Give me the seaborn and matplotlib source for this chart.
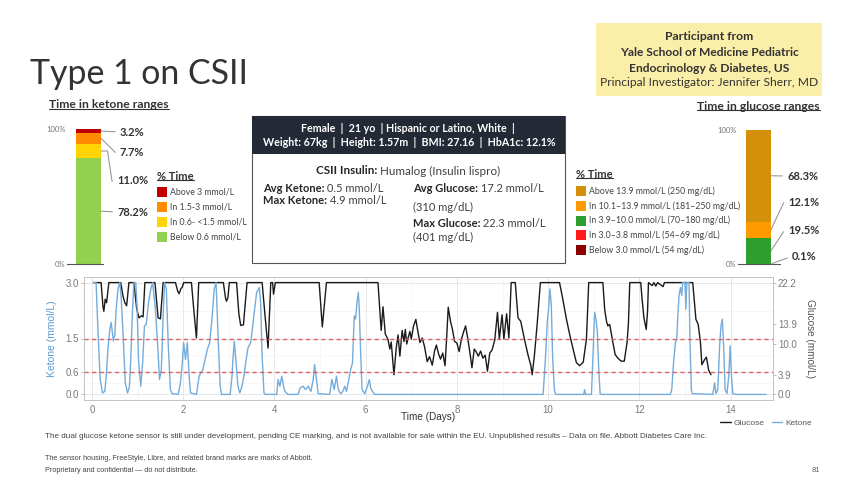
import numpy as np
import pandas as pd
import matplotlib
matplotlib.use("Agg")
import matplotlib.pyplot as plt
from matplotlib.patches import Rectangle
from matplotlib.lines import Line2D
import seaborn as sns

# ---------------- data ----------------
ketone_ranges = ['Above 3 mmol/L', 'In 1.5-3 mmol/L', 'In 0.6- <1.5 mmol/L', 'Below 0.6 mmol/L']
ketone_pct = [3.2, 7.7, 11.0, 78.2]
ketone_colors = ['#C00000', '#FF8C00', '#FFD400', '#92D050']

glucose_ranges = ['Above 13.9 mmol/L (250 mg/dL)', 'In 10.1\u201313.9 mmol/L (181\u2013250 mg/dL)',
                  'In 3.9\u201310.0 mmol/L (70\u2013180 mg/dL)', 'In 3.0\u20133.8 mmol/L (54\u201369 mg/dL)',
                  'Below 3.0 mmol/L (54 mg/dL)']
glucose_pct = [68.3, 12.1, 19.5, 0.1, 0.0]
glucose_colors = ['#D4900A', '#FF9B00', '#2E9E2E', '#FF1A1A', '#8B0000']

ketone_ticks = [0.0, 0.6, 1.5, 3.0]
glucose_ticks = [0.0, 3.9, 10.0, 13.9, 22.2]
ketone_thresholds = [0.6, 1.5]
KET_MAX, GLU_MAX = 3.0, 22.2

glucose_day = [0.03, 0.20, 0.24, 0.26, 0.29, 0.32, 0.37, 0.63, 0.68, 0.72, 0.76, 0.81, 0.92, 0.98, 1.03,
               1.08, 1.12, 1.16, 1.38, 1.45, 1.50, 1.56, 1.83, 1.88, 1.91, 1.95, 1.98, 2.01, 2.18, 2.24,
               2.29, 2.34, 2.88, 2.93, 2.95, 2.98, 3.01, 3.17, 3.22, 3.26, 3.32, 3.40, 3.73, 3.80, 3.86,
               3.92, 3.96, 3.98, 4.02, 4.98, 5.05, 5.14, 6.27, 6.34, 6.38, 6.43, 6.49, 6.53, 6.56, 6.62,
               6.67, 6.71, 6.75, 6.80, 6.84, 6.87, 6.90, 6.93, 6.97, 7.00, 7.05, 7.10, 7.15, 7.19, 7.24,
               7.29, 7.35, 7.40, 7.46, 7.51, 7.55, 7.60, 7.64, 7.69, 7.74, 7.78, 7.81, 7.86, 7.90, 7.95,
               8.00, 8.05, 8.10, 8.15, 8.19, 8.24, 8.29, 8.33, 8.38, 8.42, 8.47, 8.52, 8.57, 8.62, 8.67,
               8.72, 8.77, 8.83, 8.89, 8.93, 8.99, 9.03, 9.09, 9.14, 9.19, 9.28, 9.34, 9.40, 9.48, 9.56,
               9.62, 9.65, 9.70, 9.76, 9.83, 10.25, 10.32, 10.40, 10.47, 10.55, 10.62, 10.69, 10.77, 10.84,
               10.89, 11.20, 11.24, 11.28, 11.31, 11.35, 11.42, 11.47, 11.53, 11.60, 11.67, 11.73, 11.76,
               11.79, 12.03, 12.06, 12.10, 12.15, 12.18, 12.20, 12.28, 12.32, 12.36, 12.40, 12.52, 12.55,
               13.17, 13.24, 13.29, 13.34, 13.37, 13.43, 13.47, 13.52, 13.57]
glucose_mmol = [22.2, 22.2, 17.5, 16.5, 18.9, 18.2, 22.2, 22.2, 19.5, 18.2, 17.6, 22.2, 22.2, 17.0, 15.2,
                15.6, 15.4, 22.2, 22.2, 15.2, 15.0, 22.2, 22.2, 20.5, 20.0, 21.0, 21.3, 22.2, 22.2, 16.0,
                11.2, 22.2, 22.2, 19.0, 18.5, 19.2, 22.2, 22.2, 16.0, 13.7, 13.8, 22.2, 22.2, 15.0, 9.2,
                22.2, 22.2, 19.9, 22.2, 22.2, 13.4, 22.2, 22.2, 12.7, 17.4, 12.0, 10.9, 9.0, 10.4, 3.9,
                9.2, 11.8, 7.6, 12.7, 10.5, 12.9, 10.0, 11.2, 12.5, 11.0, 13.6, 14.9, 12.2, 10.3, 11.2,
                9.5, 6.5, 7.5, 5.8, 8.6, 9.8, 8.0, 7.0, 8.2, 5.7, 12.0, 17.3, 14.5, 13.0, 10.5,
                10.2, 8.5, 11.0, 12.5, 13.6, 11.0, 8.0, 5.3, 9.0, 8.5, 7.6, 8.6, 7.2, 7.8, 4.6,
                8.2, 8.8, 10.8, 16.3, 11.0, 15.8, 11.0, 16.0, 11.2, 22.2, 22.2, 15.2, 14.5, 11.0, 7.8,
                5.8, 3.9, 7.8, 14.0, 22.2, 22.2, 19.0, 15.0, 12.0, 8.9, 6.3, 5.7, 6.4, 11.0,
                22.2, 22.2, 16.9, 14.5, 13.6, 13.9, 10.3, 7.9, 7.2, 6.6, 6.6, 10.3, 14.0,
                22.2, 22.2, 18.9, 15.2, 12.9, 16.5, 22.2, 21.6, 22.2, 21.5, 22.2, 21.4, 22.2,
                22.2, 14.9, 13.9, 10.3, 5.9, 6.9, 7.4, 4.8, 3.9]

ketone_day = [0.03, 0.09, 0.13, 0.18, 0.23, 0.28, 0.31, 0.35, 0.39, 0.42, 0.47, 0.50, 0.53, 0.57, 0.61,
              0.64, 0.69, 0.73, 0.78, 0.82, 0.85, 0.89, 0.92, 0.96, 0.99, 1.02, 1.07, 1.11, 1.15, 1.19,
              1.24, 1.29, 1.33, 1.39, 1.45, 1.48, 1.52, 1.56, 1.59, 1.63, 1.67, 1.72, 1.76, 1.89, 1.94,
              1.98, 2.01, 2.05, 2.09, 2.13, 2.16, 2.29, 2.35, 2.38, 2.43, 2.48, 2.53, 2.58, 2.63, 2.68,
              2.72, 2.77, 2.81, 2.84, 3.03, 3.07, 3.09, 3.12, 3.17, 3.20, 3.24, 3.29, 3.33, 3.37, 3.42,
              3.48, 3.55, 3.61, 3.64, 3.67, 3.70, 3.73, 3.77, 3.80, 4.05, 4.08, 4.12, 4.16, 4.20, 4.23,
              4.30, 4.52, 4.56, 4.63, 4.68, 4.74, 4.80, 4.85, 4.88, 4.92, 4.96, 5.21, 5.26, 5.31, 5.36,
              5.40, 5.45, 5.50, 5.54, 5.58, 5.63, 5.67, 5.71, 5.75, 5.78, 5.81, 5.84, 5.86, 5.89, 5.92,
              5.98, 6.04, 6.08, 6.11, 6.15, 6.20, 9.89, 9.94, 9.98, 10.01, 10.04, 10.07, 10.10, 10.14,
              10.17, 10.78, 10.80, 10.82, 10.95, 10.98, 11.02, 11.05, 11.08, 11.11, 11.14, 11.17, 12.68,
              12.71, 12.75, 12.79, 12.82, 12.84, 12.87, 12.90, 12.93, 12.95, 13.00, 13.02, 13.04, 13.09,
              13.11, 13.14, 13.16, 13.61, 13.65, 13.68, 13.72, 13.76, 13.79, 13.82, 13.85, 13.88, 13.92,
              13.96, 13.99, 14.02, 14.05, 14.10, 14.78]
ketone_mmol = [3.0, 3.0, 1.75, 0.40, 0.04, 0.08, 0.45, 1.21, 1.75, 1.93, 1.43, 1.60, 2.29, 2.83, 3.0,
               2.6, 1.4, 0.31, 0.04, 0.2, 0.94, 2.29, 3.0, 3.0, 2.29, 0.94, 0.22, 0.85, 1.84, 1.88,
               2.47, 2.83, 3.0, 2.29, 1.12, 0.40, 0.66, 2.11, 3.0, 2.83, 1.39, 0.12, 0.02, 0.0, 0.31,
               0.85, 1.39, 0.94, 1.39, 0.49, 0.04, 0.0, 0.49, 0.57, 0.66, 0.94, 1.21, 1.39, 2.02, 2.83,
               3.0, 1.39, 0.22, 0.0, 0.0, 0.49, 0.94, 1.43, 0.66, 0.22, 0.04, 0.22, 0.49, 0.85, 1.25,
               1.39, 2.11, 2.74, 2.80, 2.87, 2.4, 1.03, 0.04, 0.0, 0.0, 0.40, 0.22, 0.49, 0.22, 0.08,
               0.0, 0.0, 0.17, 0.22, 0.13, 0.22, 0.08, 0.40, 0.80, 0.40, 0.02, 0.0, 0.40, 0.13, 0.49,
               0.13, 0.02, 0.08, 0.22, 0.08, 0.40, 0.66, 0.84, 2.11, 2.02, 2.47, 2.74, 2.29, 1.12, 0.13,
               0.02, 0.22, 0.40, 0.17, 0.08, 0.0, 0.0, 0.94, 1.93, 2.29, 2.83, 2.38, 0.94, 0.08,
               0.0, 0.0, 0.13, 0.0, 0.0, 0.94, 2.2, 2.02, 1.66, 0.66, 0.02, 0.0, 0.0,
               0.13, 0.85, 1.39, 1.48, 2.02, 2.65, 2.87, 2.65, 3.0, 3.0, 2.29, 3.0, 3.0,
               1.39, 0.13, 0.02, 0.0, 0.31, 0.02, 0.13, 1.30, 1.84, 2.02, 1.21, 0.13, 0.02,
               0.49, 1.30, 0.49, 0.02, 0.0, 0.0]

# ---------------- setup ----------------
sns.set_theme(style="white")
BODY = ['Lato', 'DejaVu Sans']
TS = ['Liberation Sans', 'DejaVu Sans']
plt.rcParams['font.family'] = BODY

W, H = 860, 484
fig = plt.figure(figsize=(W / 100, H / 100), dpi=100)
fig.patch.set_facecolor('white')
R = fig.canvas.get_renderer()


def fx(x):
    return x / W


def fy(y):
    return 1 - y / H


def rect(x0, y0, x1, y1):
    return [fx(x0), fy(y1), (x1 - x0) / W, (y1 - y0) / H]


def text(x, y, s, size, width=None, **kw):
    kw.setdefault('family', BODY)
    kw.setdefault('va', 'center')
    t = fig.text(fx(x), fy(y), s, fontsize=size, **kw)
    if width:
        w = t.get_window_extent(R).width
        t.set_fontsize(size * width / w)
    return t


def runs(x, y, parts, size, ha='left'):
    # parts: (string, weight, color); leading spaces carry the gaps
    ts, cx = [], x
    for s, w, c in parts:
        t = fig.text(fx(cx), fy(y), s, fontsize=size, fontweight=w, color=c, family=BODY, va='center')
        cx += t.get_window_extent(R).width
        ts.append(t)
    if ha == 'center':
        shift = (cx - x) / 2
        for t in ts:
            t.set_x(t.get_position()[0] - shift / W)


def underline(t, color='#333333', lw=0.8):
    bb = t.get_window_extent(R)
    y = (bb.y0 + 1.5) / H
    fig.add_artist(Line2D([bb.x0 / W, bb.x1 / W], [y, y], color=color, lw=lw, transform=fig.transFigure))


# ---------------- header ----------------
text(30, 84, 'Type 1 on CSII', 26, width=218, va='baseline', fontweight='normal', color='#333333')

fig.add_artist(Rectangle((fx(596), fy(96)), 226 / W, 73 / H, transform=fig.transFigure,
                         facecolor='#FBEEA8', edgecolor='none'))
for (yy, s, wd, wt) in [(36, 'Participant from', 88, 'bold'),
                        (52, 'Yale School of Medicine Pediatric', 180, 'bold'),
                        (68, 'Endocrinology & Diabetes, US', 161, 'bold'),
                        (83, 'Principal Investigator: Jennifer Sherr, MD', 219, 'normal')]:
    text(709, yy, s, 8, width=wd, ha='center', fontweight=wt, color='#333333')

t = text(49, 105, 'Time in ketone ranges', 8, width=120, fontweight='bold', color='#333333')
underline(t)
t = text(820, 106, 'Time in glucose ranges', 8, width=123, ha='right', fontweight='bold', color='#333333')
underline(t)


# ---------------- stacked range bars ----------------
def range_bar(x0, x1, bx0, bx1, ytop, ybot, pcts, colors, label_xy, conns):
    ax = fig.add_axes(rect(x0, ytop, x1, ybot))
    pcts = np.array(pcts)
    tops = np.cumsum(pcts[::-1])[::-1]
    for top, c in zip(tops, colors):
        sns.barplot(x=[0], y=[top], color=c, saturation=1, width=0.8, errorbar=None,
                    ax=ax, edgecolor='none', linewidth=0)
    sc = 0.8 / (bx1 - bx0)
    ax.set_xlim(-0.4 - (bx0 - x0) * sc, 0.4 + (x1 - bx1) * sc)
    ax.set_ylim(0, 100)
    ax.set_xticks([])
    ax.set_yticks([0, 100], ['0%', '100%'])
    ax.tick_params(axis='y', length=0, pad=1, labelsize=5.5, labelcolor='#777777')
    for lab in ax.get_yticklabels():
        lab.set_family(BODY)
    ax.set_xlabel('')
    ax.set_ylabel('')
    for s in ['left', 'top', 'right']:
        ax.spines[s].set_visible(False)
    ax.spines['bottom'].set_color('#555555')
    ax.spines['bottom'].set_linewidth(0.8)
    ax.patch.set_alpha(0)
    mids = tops - pcts / 2
    for p, m, (lx, ly), cs in zip(pcts, mids, label_xy, conns):
        ax.annotate(f'{p:.1f}%', xy=(0.4, m), xycoords='data', xytext=(lx, H - ly),
                    textcoords='figure pixels', ha='left', va='center', fontsize=8,
                    fontweight='bold', color='#333333', family=BODY,
                    arrowprops=dict(arrowstyle='-', color='#999999', lw=0.8, shrinkA=1, shrinkB=0,
                                    relpos=(0, 0.5), connectionstyle=cs))
    return ax


range_bar(67, 103, 76, 101, 129, 264, ketone_pct, ketone_colors,
          [(120, 132), (120, 153), (117, 181), (117, 212)],
          ['arc3,rad=0', 'arc,angleA=180,angleB=0,armA=4,armB=0,rad=0',
           'arc,angleA=180,angleB=0,armA=5,armB=6.5,rad=0', 'arc3,rad=0'])
range_bar(738, 780, 746, 771, 130, 264, glucose_pct, glucose_colors,
          [(787, 176), (788, 202), (788, 231), (792, 257)],
          ['arc3,rad=0', 'arc,angleA=180,angleB=0,armA=4,armB=0,rad=0',
           'arc,angleA=180,angleB=0,armA=4,armB=0,rad=0',
           'arc,angleA=180,angleB=0,armA=2,armB=0,rad=0'])


def range_legend(x, ytitle, y0, dy, labels, colors):
    t = text(x, ytitle, '% Time', 8, fontweight='bold', color='#333333')
    underline(t)
    for i, (lab, c) in enumerate(zip(labels, colors)):
        yy = y0 + i * dy
        fig.add_artist(Rectangle((fx(x), fy(yy + 5)), 10 / W, 10 / H, transform=fig.transFigure,
                                 facecolor=c, edgecolor='none'))
        text(x + 13, yy, lab, 6.3, color='#444444')


range_legend(157, 176, 192, 15, ketone_ranges, ketone_colors)
range_legend(576, 174, 191, 14.8, glucose_ranges, glucose_colors)

# ---------------- participant box ----------------
fig.add_artist(Rectangle((fx(252), fy(263)), 313 / W, 147 / H, transform=fig.transFigure,
                         facecolor='white', edgecolor='#555555', lw=0.8))
fig.add_artist(Rectangle((fx(252), fy(154)), 313 / W, 38 / H, transform=fig.transFigure,
                         facecolor='#232A36', edgecolor='none'))
text(408, 128, 'Female  |  21 yo  | Hispanic or Latino, White  |', 7, width=213,
     ha='center', fontweight='bold', color='white')
text(409, 143, 'Weight: 67kg  |  Height: 1.57m  |  BMI: 27.16  |  HbA1c: 12.1%', 7, width=292,
     ha='center', fontweight='bold', color='white')
B, N = '#262626', '#404040'
runs(408, 171, [('CSII Insulin:', 'bold', B), (' Humalog (Insulin lispro)', 'normal', N)], 8.4, ha='center')
runs(263, 189, [('Avg Ketone:', 'bold', B), (' 0.5 mmol/L', 'normal', N)], 8)
runs(263, 201, [('Max Ketone:', 'bold', B), (' 4.9 mmol/L', 'normal', N)], 8)
runs(413, 189, [('Avg Glucose:', 'bold', B), (' 17.2 mmol/L', 'normal', N)], 8)
runs(413, 207, [('(310 mg/dL)', 'normal', N)], 8)
runs(413, 223, [('Max Glucose:', 'bold', B), (' 22.3 mmol/L', 'normal', N)], 8)
runs(413, 237, [('(401 mg/dL)', 'normal', N)], 8)

# ---------------- time series ----------------
ts = pd.concat([
    pd.DataFrame({'day': glucose_day, 'value': np.array(glucose_mmol) * KET_MAX / GLU_MAX, 'series': 'Glucose'}),
    pd.DataFrame({'day': ketone_day, 'value': ketone_mmol, 'series': 'Ketone'}),
], ignore_index=True)

ax = fig.add_axes(rect(84, 277, 773, 400))
sns.lineplot(data=ts, x='day', y='value', hue='series', estimator=None, sort=False,
             palette={'Glucose': '#1A1A1A', 'Ketone': '#74ACDC'}, linewidth=1.0, ax=ax)
for th in ketone_thresholds:
    ax.axhline(th, color='#E06060', lw=1.0, ls=(0, (3, 2.5)), zorder=3)
ax.set_xlim(-0.175, 14.93)
ax.set_ylim(-0.15, 3.15)
ax.set_xticks(range(0, 15, 2), [str(v) for v in range(0, 15, 2)])
ax.set_xticks(range(1, 15, 2), minor=True)
ax.set_yticks(ketone_ticks, [f'{v:.1f}' for v in ketone_ticks])
ax.set_yticks([0.3, 1.05, 2.25], minor=True)
ax.grid(which='major', color='#E3E3E3', lw=0.6)
ax.grid(which='minor', color='#F1F1F1', lw=0.4)
ax.set_axisbelow(True)
ax.tick_params(which='major', length=2, color='#B3B3B3', width=0.6, labelsize=7,
               labelcolor='#7A7A7A', pad=1.5)
ax.tick_params(which='minor', length=0)
for s in ax.spines.values():
    s.set_color('#C4C4C4')
    s.set_linewidth(0.7)
ax.set_xlabel('Time (Days)', fontsize=7.2, color='#333333', family=TS, va='center')
ax.xaxis.set_label_coords(0.5, -0.136)
ax.set_ylabel('Ketone (mmol/L)', fontsize=7.5, color='#5B9BD5', family=TS, va='center', ha='center')
ax.yaxis.set_label_coords(-0.046, 0.5)
for lab in ax.get_xticklabels() + ax.get_yticklabels():
    lab.set_family(TS)
sns.move_legend(ax, 'center', bbox_to_anchor=(0.99, -0.187), ncol=2, frameon=False, title=None,
                fontsize=6, handlelength=1.3, columnspacing=0.8, handletextpad=0.4)
for lab in ax.get_legend().get_texts():
    lab.set_family(TS)
    lab.set_color('#555555')

ax2 = ax.twinx()
ax2.set_ylim(np.array(ax.get_ylim()) * GLU_MAX / KET_MAX)
ax2.set_yticks(glucose_ticks, [f'{v:.1f}' for v in glucose_ticks])
ax2.tick_params(length=2, color='#B3B3B3', width=0.6, labelsize=7, labelcolor='#7A7A7A', pad=1.5)
for lab in ax2.get_yticklabels():
    lab.set_family(TS)
for s in ax2.spines.values():
    s.set_color('#C4C4C4')
    s.set_linewidth(0.7)
ax2.set_ylabel('Glucose (mmol/L)', fontsize=7.2, color='#555555', family=TS, rotation=270,
               va='center', ha='center')
ax2.yaxis.set_label_coords(1.054, 0.5)
ax2.grid(False)

# ---------------- footer ----------------
text(45, 437, 'The dual glucose ketone sensor is still under development, pending CE marking, and is not '
     'available for sale within the EU. Unpublished results \u2013 Data on file. Abbott Diabetes Care Inc.',
     6, width=673, color='#444444', family=TS)
text(45, 458, 'The sensor housing, FreeStyle, Libre, and related brand marks are marks of Abbott.',
     5.2, color='#444444', family=TS)
text(45, 470, 'Proprietary and confidential \u2014 do not distribute.', 5.2,
     color='#444444', family=TS)
text(812, 470, '81', 5.5, color='#666666', family=TS)

fig.savefig('out.png', dpi=100, facecolor='white')
